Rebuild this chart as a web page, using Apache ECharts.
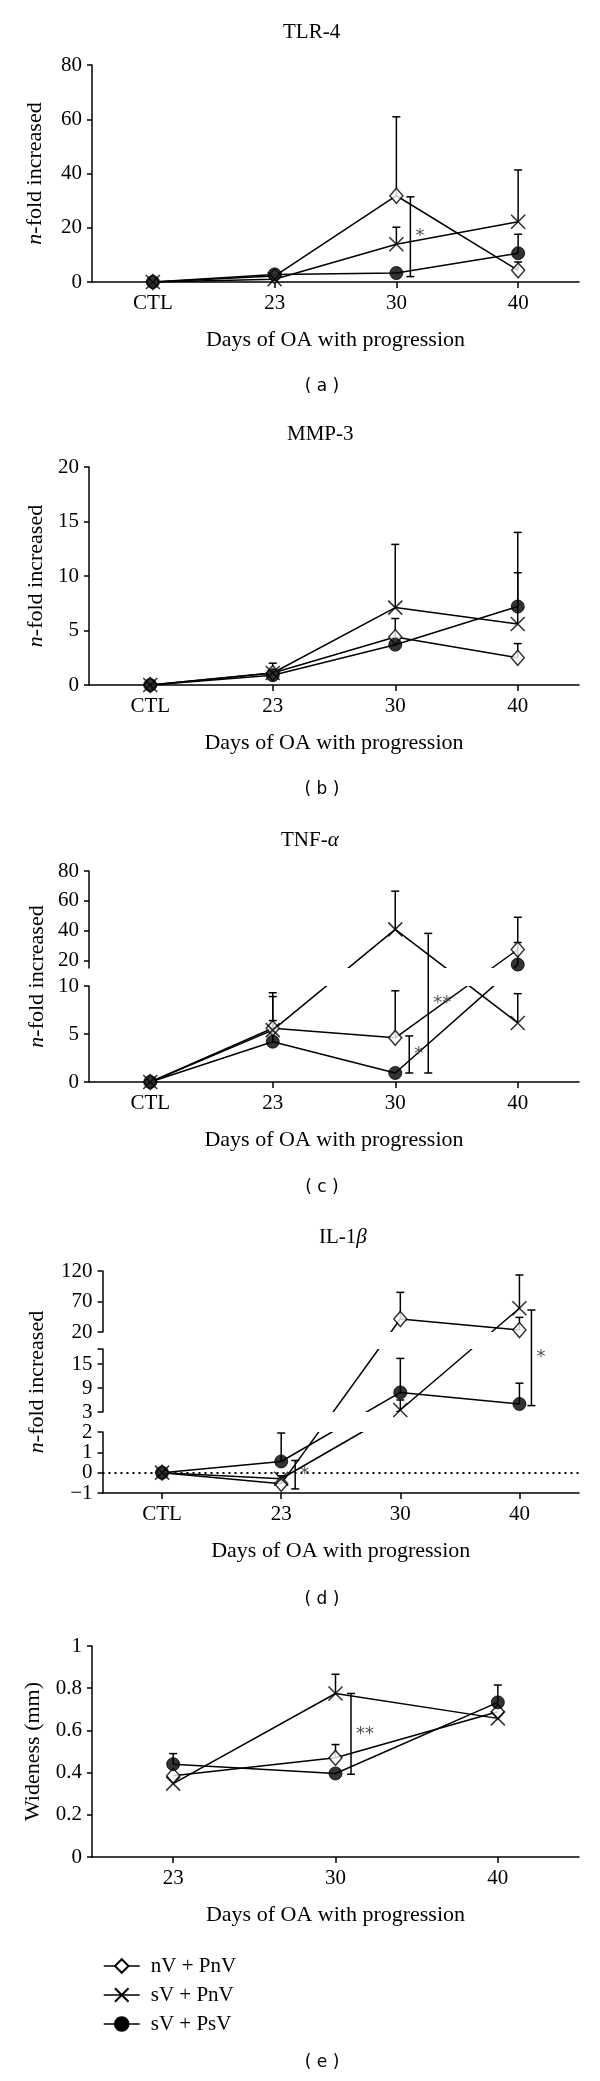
<!DOCTYPE html>
<html>
<head>
<meta charset="utf-8">
<script src="https://cdn.jsdelivr.net/npm/echarts@6/dist/echarts.min.js"></script>
<style>
html,body{margin:0;padding:0;background:#fff;}
#chart{width:600px;height:2081px;}
</style>
</head>
<body>
<div id="chart"></div>
<script>
// ---------------- DATA ----------------
const groupNames = ['nV + PnV', 'sV + PnV', 'sV + PsV'];
const daysWithCtl = ['CTL', '23', '30', '40'];
const daysNoCtl = ['23', '30', '40'];

// (a) TLR-4
const tlr4_nVPnV = [0, 2.2, 31.8, 4.3];
const tlr4_sVPnV = [0, 1.0, 13.9, 22.2];
const tlr4_sVPsV = [0, 2.8, 3.3, 10.6];
const tlr4_err_nVPnV = [null, null, 60.9, 7.4];
const tlr4_err_sVPnV = [null, null, 20.2, 41.3];
const tlr4_err_sVPsV = [null, null, null, 17.6];
const tlr4_sig = [[2, 2.0, 31.4, '*']];
const tlr4_ticks = [0, 20, 40, 60, 80];

// (b) MMP-3
const mmp3_nVPnV = [0, 1.1, 4.4, 2.5];
const mmp3_sVPnV = [0, 1.1, 7.1, 5.6];
const mmp3_sVPsV = [0, 0.9, 3.7, 7.2];
const mmp3_err_nVPnV = [null, null, 6.1, 3.8];
const mmp3_err_sVPnV = [null, 2.0, 12.9, 10.3];
const mmp3_err_sVPsV = [null, null, null, 14.0];
const mmp3_sig = [];
const mmp3_ticks = [0, 5, 10, 15, 20];

// (c) TNF-alpha (broken axis)
const tnf_nVPnV = [0, 5.6, 4.6, 27.4];
const tnf_sVPnV = [0, 5.4, 40.9, 6.15];
const tnf_sVPsV = [0, 4.2, 0.94, 17.3];
const tnf_err_nVPnV = [null, 9.3, 9.5, 49];
const tnf_err_sVPnV = [null, 8.9, 66.5, 9.2];
const tnf_err_sVPsV = [null, 6.4, null, 32.1];
const tnf_sig = [[2, 0.94, 4.8, '*'], [2, 0.94, 38.2, '**']];
const tnf_ticks_low = [0, 5, 10];
const tnf_ticks_high = [20, 40, 60, 80];

// (d) IL-1beta (broken axis)
const il1_nVPnV = [0, -0.55, 41.3, 23.3];
const il1_sVPnV = [0, -0.3, 3.5, 58.9];
const il1_sVPsV = [0, 0.55, 7.9, 5.0];
const il1_err_nVPnV = [null, -0.15, 85, 44];
const il1_err_sVPnV = [null, null, 6, 113.5];
const il1_err_sVPsV = [null, 1.95, 16.4, 10.2];
const il1_sig = [[1, -0.8, 0.6, '*'], [3, 4.6, 56, '*']];
const il1_ticks_low = [-1, 0, 1, 2];
const il1_ticks_mid = [3, 9, 15, 18.75];
const il1_labels_mid = [3, 9, 15];
const il1_ticks_high = [20, 70, 120];

// (e) Wideness
const wide_nVPnV = [0.385, 0.47, 0.688];
const wide_sVPnV = [0.348, 0.775, 0.657];
const wide_sVPsV = [0.44, 0.396, 0.733];
const wide_err_nVPnV = [null, 0.533, null];
const wide_err_sVPnV = [null, 0.866, null];
const wide_err_sVPsV = [0.49, null, 0.815];
const wide_sig = [[1, 0.392, 0.775, '**']];
const wide_ticks = [0, 0.2, 0.4, 0.6, 0.8, 1];

// ---------------- PANELS ----------------
const panels = [
  { id: 'a', title: 'TLR-4', cats: daysWithCtl, means: [tlr4_nVPnV, tlr4_sVPnV, tlr4_sVPsV],
    errs: [tlr4_err_nVPnV, tlr4_err_sVPnV, tlr4_err_sVPsV], sig: tlr4_sig,
    ticks: [tlr4_ticks], labels: [tlr4_ticks], yName: '{it|n}-fold increased', tag: '( a )' },
  { id: 'b', title: 'MMP-3', cats: daysWithCtl, means: [mmp3_nVPnV, mmp3_sVPnV, mmp3_sVPsV],
    errs: [mmp3_err_nVPnV, mmp3_err_sVPnV, mmp3_err_sVPsV], sig: mmp3_sig,
    ticks: [mmp3_ticks], labels: [mmp3_ticks], yName: '{it|n}-fold increased', tag: '( b )' },
  { id: 'c', title: 'TNF-{it|α}', cats: daysWithCtl, means: [tnf_nVPnV, tnf_sVPnV, tnf_sVPsV],
    errs: [tnf_err_nVPnV, tnf_err_sVPnV, tnf_err_sVPsV], sig: tnf_sig,
    ticks: [tnf_ticks_low, tnf_ticks_high], labels: [tnf_ticks_low, tnf_ticks_high],
    yName: '{it|n}-fold increased', tag: '( c )' },
  { id: 'd', title: 'IL-1{it|β}', cats: daysWithCtl, means: [il1_nVPnV, il1_sVPnV, il1_sVPsV],
    errs: [il1_err_nVPnV, il1_err_sVPnV, il1_err_sVPsV], sig: il1_sig,
    ticks: [il1_ticks_low, il1_ticks_mid, il1_ticks_high], labels: [il1_ticks_low, il1_labels_mid, il1_ticks_high],
    yName: '{it|n}-fold increased', tag: '( d )', zeroLine: true },
  { id: 'e', title: null, cats: daysNoCtl, means: [wide_nVPnV, wide_sVPnV, wide_sVPsV],
    errs: [wide_err_nVPnV, wide_err_sVPnV, wide_err_sVPsV], sig: wide_sig,
    ticks: [wide_ticks], labels: [wide_ticks], yName: 'Wideness (mm)', tag: '( e )' }
];

// layout (pixel positions, not data)
const layouts = {
  a: { left: 92, segs: [{lo: 0, hi: 80, yLo: 282, yHi: 65}], titleX: 283, titleY: 32.5, tagY: 387, sigOff: [14], yNameGap: 46 },
  b: { left: 89, segs: [{lo: 0, hi: 20, yLo: 685, yHi: 467}], titleX: 287, titleY: 434, tagY: 790, sigOff: [], yNameGap: 41 },
  c: { left: 89, segs: [{lo: 0, hi: 10, yLo: 1082, yHi: 986}, {lo: 15, hi: 80, yLo: 968, yHi: 871}],
       titleX: 281, titleY: 840, tagY: 1188, sigOff: [14, 33], yNameGap: 41 },
  d: { left: 102.5, segs: [{lo: -1, hi: 2, yLo: 1493, yHi: 1432}, {lo: 3, hi: 18.75, yLo: 1412, yHi: 1349}, {lo: 20, hi: 120, yLo: 1332, yHi: 1271}],
       titleX: 319, titleY: 1237.5, tagY: 1600, sigOff: [14, 12], yNameGap: 54 },
  e: { left: 92, segs: [{lo: 0, hi: 1, yLo: 1857, yHi: 1646}], titleX: 0, titleY: 0, tagY: 2063, sigOff: [15.5], yNameGap: 48 }
};

const SERIF = '"Liberation Serif", "Times New Roman", serif';
const BLACK = '#000';
const X_SYMBOL = 'path://M0,0L10,10M10,0L0,10';
const markerStyles = [
  { symbol: 'diamond', symbolSize: [13, 15], itemStyle: { color: '#fff', borderColor: BLACK, borderWidth: 1.5 } },
  { symbol: X_SYMBOL, symbolSize: 14, itemStyle: { color: BLACK, borderColor: BLACK, borderWidth: 1.6 } },
  { symbol: 'circle', symbolSize: 13, itemStyle: { color: BLACK, borderColor: BLACK, borderWidth: 1 } }
];
const axisLineStyle = { color: BLACK, width: 1.5 };
const tickFont = { color: BLACK, fontFamily: SERIF, fontSize: 21 };
const nameFont = { color: BLACK, fontFamily: SERIF, fontSize: 22,
  rich: { it: { fontStyle: 'italic', fontFamily: SERIF, fontSize: 22, color: BLACK } } };
const fmtNum = v => String(v).replace('-', '\u2212');

const grids = [], xAxes = [], yAxes = [], series = [], titles = [], graphics = [];

panels.forEach(p => {
  const L = layouts[p.id];
  const segs = L.segs;
  const top = Math.min(...segs.map(s => s.yHi));
  const bottom = Math.max(...segs.map(s => s.yLo));
  const height = bottom - top;
  const multi = segs.length > 1;
  const toPx = v => {
    let s = segs[0];
    segs.forEach(g => { if (v >= g.lo) s = g; });
    return s.yLo + (v - s.lo) * (s.yHi - s.yLo) / (s.hi - s.lo);
  };
  const tf = v => (v == null ? null : (multi ? bottom - toPx(v) : v));

  const gi = grids.length;
  const xi = xAxes.length;
  const yi = yAxes.length;
  grids.push({ left: L.left, right: 21, top: top, height: height, containLabel: false, outerBoundsMode: 'none' });
  xAxes.push({
    gridIndex: gi, type: 'category', data: p.cats, boundaryGap: true,
    axisLine: { show: true, onZero: false, lineStyle: axisLineStyle },
    axisTick: { show: true, alignWithLabel: true, length: 6, lineStyle: axisLineStyle },
    axisLabel: Object.assign({ margin: 11, interval: 0 }, tickFont),
    splitLine: { show: false },
    name: 'Days of OA with progression', nameLocation: 'middle', nameGap: 47,
    nameTextStyle: nameFont
  });
  if (!multi) {
    const tk = p.ticks[0];
    yAxes.push({
      gridIndex: gi, type: 'value', min: segs[0].lo, max: segs[0].hi, interval: tk[1] - tk[0],
      axisLine: { show: true, onZero: false, lineStyle: axisLineStyle },
      axisTick: { show: true, length: 5, lineStyle: axisLineStyle },
      axisLabel: Object.assign({ margin: 10, formatter: fmtNum, showMinLabel: true, showMaxLabel: true, hideOverlap: false }, tickFont),
      splitLine: { show: false },
      name: p.yName, nameLocation: 'middle', nameGap: L.yNameGap, nameTextStyle: nameFont
    });
  } else {
    yAxes.push({
      gridIndex: gi, type: 'value', min: 0, max: height,
      axisLine: { show: false }, axisTick: { show: false }, axisLabel: { show: false },
      splitLine: { show: false },
      name: p.yName, nameLocation: 'middle', nameGap: L.yNameGap, nameTextStyle: nameFont
    });
  }

  // data series: lines then markers
  p.means.forEach((m, g) => {
    const ms = markerStyles[g];
    const lineSeries = {
      type: 'line', name: groupNames[g], xAxisIndex: xi, yAxisIndex: yi,
      data: m.map(tf), symbol: ms.symbol, symbolSize: ms.symbolSize, showSymbol: false,
      itemStyle: ms.itemStyle, lineStyle: { color: BLACK, width: 1.5 }, z: 2, silent: true
    };
    if (p.zeroLine && g === 0) {
      lineSeries.markLine = {
        silent: true, z: 2, symbol: ['none', 'none'], label: { show: false },
        lineStyle: { type: [2, 4], color: BLACK, width: 1.8 },
        data: [{ yAxis: tf(0) }]
      };
    }
    series.push(lineSeries);
  });

  // gap masks for broken axes
  if (multi) {
    const gaps = [];
    for (let i = 0; i < segs.length - 1; i++) {
      gaps.push([0, bottom - segs[i].yHi, bottom - segs[i + 1].yLo]);
    }
    series.push({
      type: 'custom', xAxisIndex: xi, yAxisIndex: yi, z: 3, silent: true,
      data: gaps, encode: { x: 0, y: [1, 2] },
      renderItem: (params, api) => {
        const cs = params.coordSys;
        const yA = api.coord([0, api.value(2)])[1];
        const yB = api.coord([0, api.value(1)])[1];
        return { type: 'rect', shape: { x: cs.x + 2, y: yA, width: cs.width - 2, height: yB - yA },
                 style: { fill: '#fff' } };
      }
    });
    // segment axes (labels split over two stacked axes when they sit too close together)
    segs.forEach((s, si) => {
      const sg = grids.length;
      grids.push({ left: L.left, right: 21, top: s.yHi, height: s.yLo - s.yHi, containLabel: false, outerBoundsMode: 'none' });
      xAxes.push({ gridIndex: sg, type: 'value', show: false, min: 0, max: 1 });
      const labs = p.labels[si];
      const pxPerUnit = (s.yLo - s.yHi) / (s.hi - s.lo);
      const tight = labs.length > 1 && (labs[1] - labs[0]) * pxPerUnit < 24;
      const groupsOfLabels = tight ? [labs.filter((_, k) => k % 2 === 0), labs.filter((_, k) => k % 2 === 1)] : [labs];
      groupsOfLabels.forEach((lv, li) => {
        yAxes.push({
          gridIndex: sg, type: 'value', min: s.lo, max: s.hi, position: 'left', offset: 0,
          axisLine: { show: li === 0, onZero: false, lineStyle: axisLineStyle },
          axisTick: { show: li === 0, length: 5, lineStyle: axisLineStyle, customValues: p.ticks[si] },
          axisLabel: Object.assign({ margin: 10, formatter: fmtNum, customValues: lv,
            showMinLabel: true, showMaxLabel: true, hideOverlap: false }, tickFont),
          splitLine: { show: false }
        });
      });
    });
  }

  // error bars + significance brackets
  const bars = [];
  p.errs.forEach((e, g) => {
    e.forEach((top, i) => {
      if (top != null) bars.push({ cat: i, lo: p.means[g][i], hi: top, off: 0, both: false, label: '' });
    });
  });
  p.sig.forEach((s, k) => {
    bars.push({ cat: s[0], lo: s[1], hi: s[2], off: L.sigOff[k], both: true, label: s[3] });
  });
  series.push({
    type: 'custom', xAxisIndex: xi, yAxisIndex: yi, z: 4, silent: true,
    data: bars.map(b => [b.cat, tf(b.lo), tf(b.hi)]), encode: { x: 0, y: [1, 2] },
    renderItem: (params, api) => {
      const b = bars[params.dataIndex];
      const p1 = api.coord([api.value(0), api.value(1)]);
      const p2 = api.coord([api.value(0), api.value(2)]);
      const x = p1[0] + b.off;
      const st = { stroke: BLACK, lineWidth: 1.5 };
      const ch = [
        { type: 'line', shape: { x1: x, y1: p1[1], x2: x, y2: p2[1] }, style: st },
        { type: 'line', shape: { x1: x - 4, y1: p2[1], x2: x + 4, y2: p2[1] }, style: st }
      ];
      if (b.both) ch.push({ type: 'line', shape: { x1: x - 4, y1: p1[1], x2: x + 4, y2: p1[1] }, style: st });
      if (b.label) {
        ch.push({ type: 'text', x: x + 5, y: (p1[1] + p2[1]) / 2,
          style: { text: b.label, fill: '#555', font: '18px "DejaVu Sans"', align: 'left', verticalAlign: 'middle' } });
      }
      return { type: 'group', children: ch };
    }
  });

  // markers on top
  p.means.forEach((m, g) => {
    const ms = markerStyles[g];
    series.push({
      type: 'scatter', name: groupNames[g], xAxisIndex: xi, yAxisIndex: yi,
      data: m.map((v, i) => [i, tf(v)]), symbol: ms.symbol, symbolSize: ms.symbolSize,
      itemStyle: ms.itemStyle, z: 5, silent: true
    });
  });

  if (p.title) {
    titles.push({
      text: p.title, left: L.titleX, top: L.titleY - 12, padding: 0,
      textStyle: { fontFamily: SERIF, fontSize: 21, fontWeight: 'normal', color: BLACK, lineHeight: 24,
        rich: { it: { fontStyle: 'italic', fontFamily: SERIF, fontSize: 21, lineHeight: 24, color: BLACK } } }
    });
  }
  graphics.push({ type: 'text', x: 322, y: L.tagY,
    style: { text: p.tag, fill: BLACK, font: '17px "DejaVu Sans"', align: 'center', verticalAlign: 'middle' } });
});

const option = {
  animation: false,
  backgroundColor: '#fff',
  color: [BLACK, BLACK, BLACK],
  textStyle: { fontFamily: SERIF },
  title: titles,
  grid: grids,
  xAxis: xAxes,
  yAxis: yAxes,
  series: series,
  graphic: graphics,
  legend: {
    data: groupNames, orient: 'vertical', left: 98, top: 1950,
    itemWidth: 36, itemHeight: 17, itemGap: 7,
    lineStyle: { width: 1.5, color: BLACK },
    textStyle: { fontFamily: SERIF, fontSize: 21, color: BLACK, lineHeight: 22, padding: [0, 0, 0, 6] }
  }
};

const chart = echarts.init(document.getElementById('chart'), null, { renderer: 'canvas' });
chart.setOption(option);
</script>
</body>
</html>
